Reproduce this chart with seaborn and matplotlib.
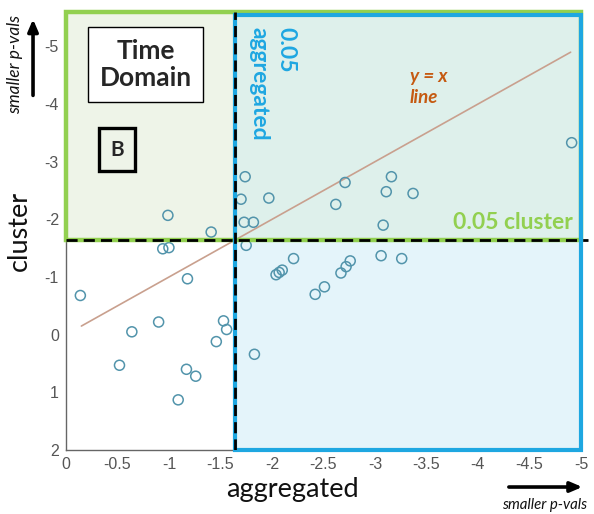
import numpy as np
import pandas as pd
import matplotlib
matplotlib.use("Agg")
import matplotlib.pyplot as plt
from matplotlib.patches import Rectangle
import seaborn as sns

# z-scored p-values per recording: aggregated test vs cluster test
aggregated = [-0.14, -0.94, -1.00, -1.18, -0.90, -0.64, -0.52, -1.17, -1.26, -1.09,
              -1.53, -1.56, -1.46, -1.83, -0.99, -1.41,
              -1.74, -1.70, -1.97, -1.73, -1.82, -1.75,
              -2.21, -2.04, -2.07, -2.10, -2.42, -2.51, -2.67, -2.72, -2.76,
              -2.71, -2.62, -3.16, -3.11, -3.37, -3.08, -3.06, -3.26, -4.91]
cluster = [-0.68, -1.49, -1.51, -0.97, -0.22, -0.05, 0.53, 0.60, 0.72, 1.13,
           -0.24, -0.09, 0.12, 0.34, -2.07, -1.78,
           -2.74, -2.35, -2.37, -1.95, -1.95, -1.55,
           -1.32, -1.04, -1.08, -1.12, -0.70, -0.83, -1.07, -1.18, -1.28,
           -2.64, -2.26, -2.74, -2.48, -2.45, -1.90, -1.37, -1.32, -3.33]

identity_x = [-0.15, -4.90]
threshold = -1.645

x_ticks = [0, -0.5, -1, -1.5, -2, -2.5, -3, -3.5, -4, -4.5, -5]
x_ticklabels = ["0", "-0.5", "-1", "-1.5", "-2", "-2.5", "-3", "-3.5", "-4", "-4.5", "-5"]
y_ticks = [2, 1, 0, -1, -2, -3, -4, -5]
y_ticklabels = ["2", "1", "0", "-1", "-2", "-3", "-4", "-5"]

df = pd.DataFrame({"aggregated": aggregated, "cluster": cluster})
line_df = pd.DataFrame({"x": identity_x, "y": identity_x})

sns.set_style("white")
plt.rcParams["font.family"] = ["Lato", "DejaVu Sans"]

fig = plt.figure(figsize=(5.94, 5.14), dpi=100)
ax = fig.add_axes([0.111, 0.1245, 0.867, 0.8525])

xlo, xhi = 0, -5
ylo, yhi = 2, -5.6

GREEN = "#92d050"
BLUE = "#1ea7e1"

# significance regions: cluster-only, aggregated-only, and both
ax.add_patch(Rectangle((xlo, threshold), threshold - xlo, yhi - threshold,
                       facecolor="#eef4e8", edgecolor="none", zorder=0))
ax.add_patch(Rectangle((threshold, ylo), xhi - threshold, threshold - ylo,
                       facecolor="#e4f4fa", edgecolor="none", zorder=0))
ax.add_patch(Rectangle((threshold, threshold), xhi - threshold, yhi - threshold,
                       facecolor="#def0eb", edgecolor="none", zorder=0))
ax.add_patch(Rectangle((xlo, threshold), xhi - xlo, yhi - threshold,
                       facecolor="none", edgecolor=GREEN, lw=3.2, zorder=4, clip_on=False))
ax.add_patch(Rectangle((threshold, ylo), xhi - threshold, yhi - ylo + 0.06,
                       facecolor="none", edgecolor=BLUE, lw=3.0, zorder=5, clip_on=False))

sns.lineplot(data=line_df, x="x", y="y", ax=ax, color="#c9a08e", lw=1.2, zorder=2)

sns.scatterplot(data=df, x="aggregated", y="cluster", ax=ax, marker="o", s=52,
                facecolors="none", edgecolors="#5294ab", linewidth=1.1, zorder=3)

ax.axvline(threshold, color="black", lw=2.0, ls=(0, (4, 2.2)), zorder=6)
ax.plot([xlo, xhi - 0.07], [threshold, threshold], color="black", lw=2.0,
        ls=(0, (4, 2.2)), zorder=6, clip_on=False)

ax.set_xlim(xlo, xhi)
ax.set_ylim(ylo, yhi)
ax.set_xticks(x_ticks)
ax.set_xticklabels(x_ticklabels, fontfamily="Liberation Sans")
ax.set_yticks(y_ticks)
ax.set_yticklabels(y_ticklabels, fontfamily="Liberation Sans")
ax.tick_params(axis="both", direction="in", length=4, width=0.8, color="#666666",
               labelcolor="#555555", labelsize=11.5, pad=5)
for s in ax.spines.values():
    s.set_color("#666666")
    s.set_linewidth(1.0)

ax.set_xlabel("aggregated", fontsize=19.5, color="#111111")
ax.set_ylabel("cluster", fontsize=19.5, color="#111111")
ax.xaxis.set_label_coords(0.44, -0.062)
ax.yaxis.set_label_coords(-0.066, 0.5)

# annotations
fig.text(0.245, 0.874, "Time\nDomain", ha="center", va="center", fontsize=19,
         fontweight="bold", linespacing=1.15,
         bbox=dict(boxstyle="square,pad=0.45", fc="white", ec="black", lw=1.0))
fig.text(0.197, 0.709, "B", ha="center", va="center", fontsize=15, fontweight="bold",
         bbox=dict(boxstyle="square,pad=0.55", fc="none", ec="black", lw=2.4))
fig.text(0.419, 0.947, "0.05\naggregated", ha="left", va="top", rotation=-90,
         fontsize=16.5, fontweight="bold", color=BLUE, linespacing=1.3)
fig.text(0.69, 0.83, "y = x\nline", ha="left", va="center", fontsize=13.5,
         fontweight="bold", fontstyle="italic", color="#c55a11", linespacing=1.3)
fig.text(0.965, 0.568, "0.05 cluster", ha="right", va="center", fontsize=16.5,
         fontweight="bold", color=GREEN)

# direction hints
fig.text(0.026, 0.875, "smaller p-vals", rotation=90, ha="center", va="center",
         fontsize=12.5, fontstyle="italic", color="#111111")
fig.add_artist(plt.Annotation("", xy=(0.0556, 0.968), xytext=(0.0556, 0.809),
                              xycoords="figure fraction",
                              arrowprops=dict(arrowstyle="-|>,head_width=0.3,head_length=0.7",
                                              color="black", lw=2.6)))
fig.text(0.917, 0.0175, "smaller p-vals", ha="center", va="center",
         fontsize=10.8, fontstyle="italic", color="#111111")
fig.add_artist(plt.Annotation("", xy=(0.985, 0.0525), xytext=(0.852, 0.0525),
                              xycoords="figure fraction",
                              arrowprops=dict(arrowstyle="-|>,head_width=0.3,head_length=0.7",
                                              color="black", lw=2.6)))

fig.savefig("out.png", dpi=100)
